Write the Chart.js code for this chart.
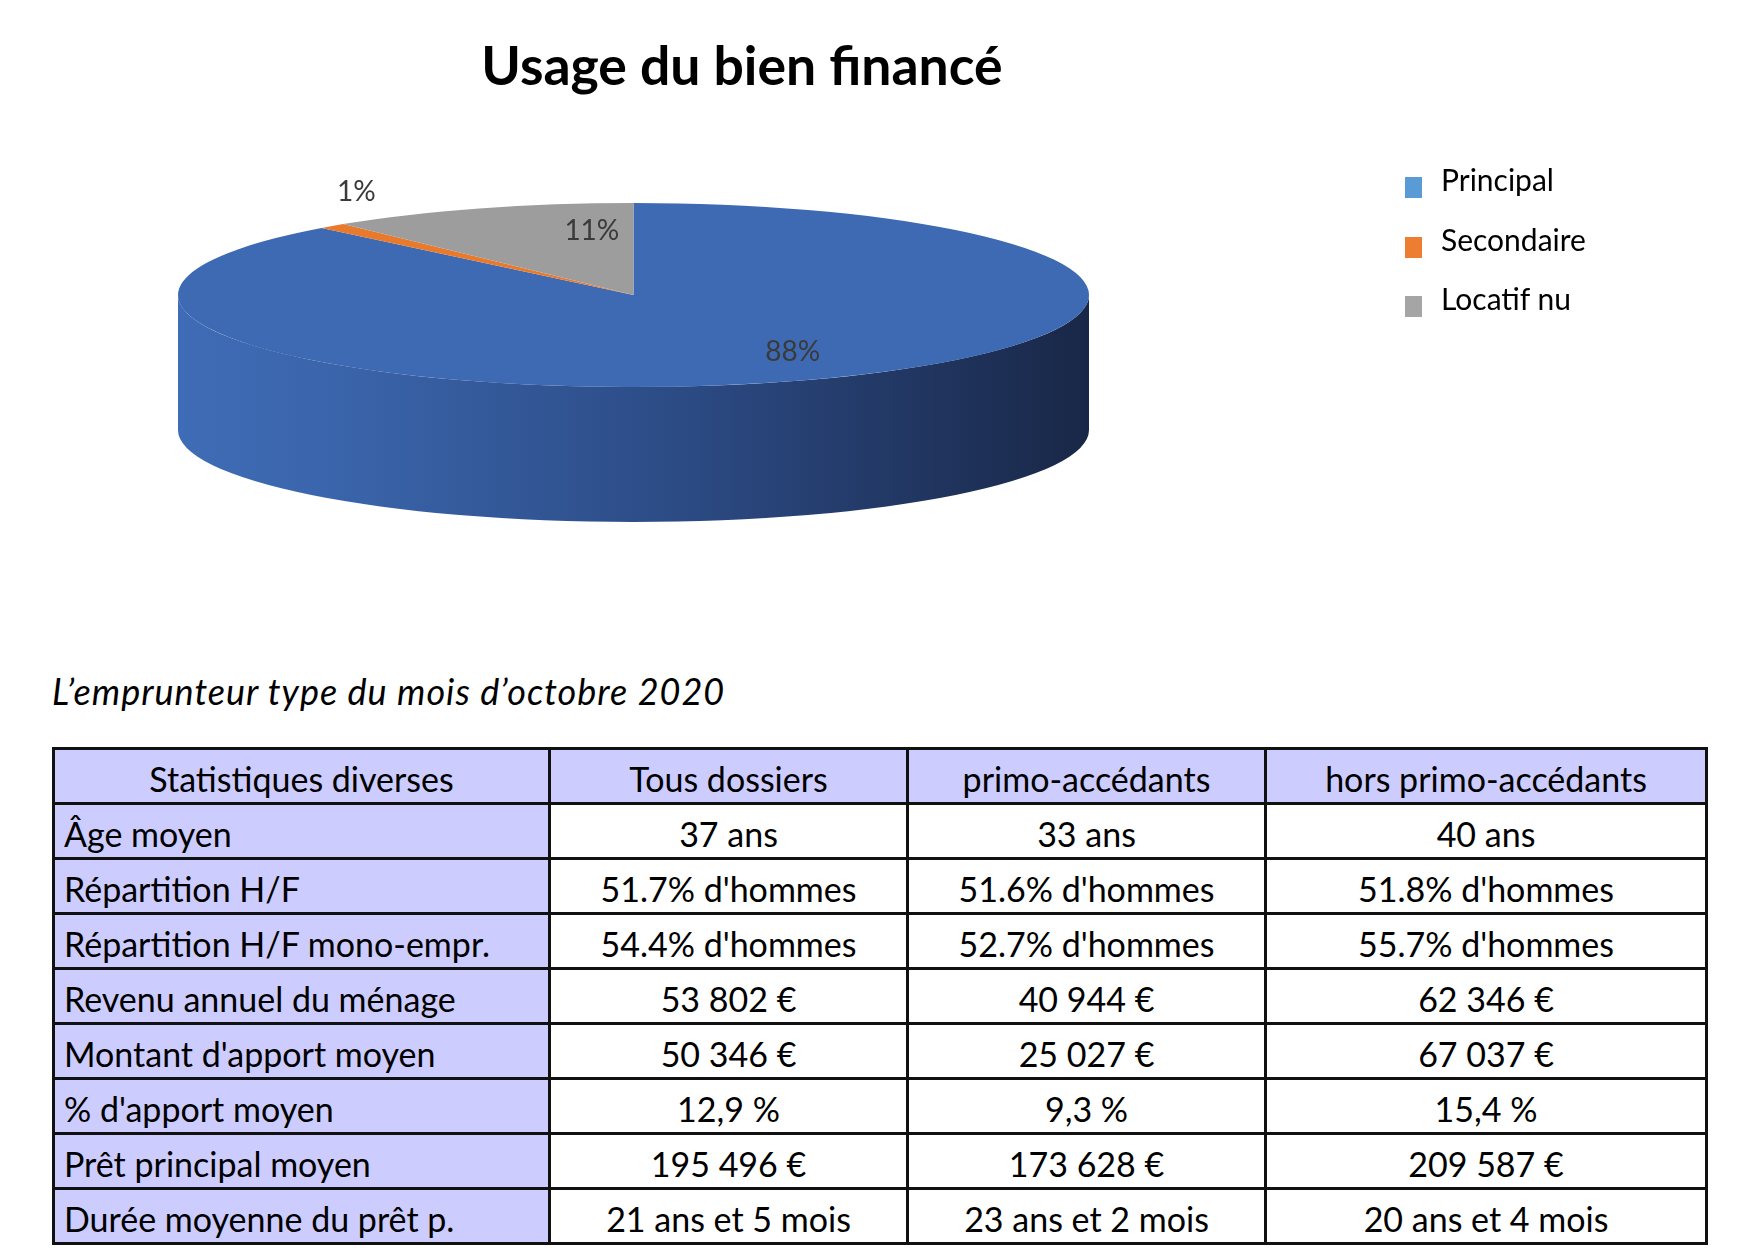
<!DOCTYPE html>
<html lang="fr">
<head>
<meta charset="utf-8">
<title>Usage du bien financé</title>
<script src="https://cdn.jsdelivr.net/npm/chart.js@4.4.1/dist/chart.umd.min.js"></script>
<style>
  html, body { margin: 0; padding: 0; background: #fff; }
  body {
    width: 1764px; height: 1254px; position: relative; overflow: hidden;
    font-family: Lato, "Noto Sans", sans-serif; color: #000;
  }
  #pie { position: absolute; left: 0; top: 0; }
  #title {
    position: absolute; left: 742px; top: 33px; transform: translateX(-50%);
    font-size: 53.5px; font-weight: 700; line-height: 62px; white-space: nowrap;
  }
  #legend { position: absolute; left: 1405px; top: 150px; }
  .key { position: relative; height: 59.6px; line-height: 59.6px; padding-left: 36px; font-size: 30px; white-space: nowrap; }
  .key i { position: absolute; left: 0; top: 27px; width: 17px; height: 21px; }
  #subtitle {
    position: absolute; left: 52px; top: 671px;
    font-size: 36px; font-style: italic; letter-spacing: 1px; line-height: 40px; white-space: nowrap;
  }
  #stats {
    position: absolute; left: 52px; top: 747px; width: 1656px;
    border-collapse: separate; border-spacing: 0; table-layout: fixed;
    border-top: 3px solid #111; border-left: 3px solid #111;
    font-size: 34px;
  }
  #stats tr { height: 55px; }
  #stats td {
    border-right: 3px solid #111; border-bottom: 3px solid #111;
    padding: 0 0 3.5px 0; line-height: 40px; vertical-align: bottom;
    text-align: center; white-space: nowrap; overflow: hidden;
  }
  #stats td.lab { text-align: left; padding-left: 9px; background: #ccccff; }
  #stats tr.head td { background: #ccccff; text-align: center; padding-left: 0; }
</style>
</head>
<body>
<canvas id="pie" width="1764" height="600"></canvas>
<div id="title">Usage du bien financé</div>
<div id="legend"></div>
<div id="subtitle">L’emprunteur type du mois d’octobre 2020</div>
<table id="stats"></table>
<script>
// pie data
const categories = ['Principal', 'Secondaire', 'Locatif nu'];
const shares = [88, 1, 11];

// table data
const tableHeader = ['Statistiques diverses', 'Tous dossiers', 'primo-accédants', 'hors primo-accédants'];
const statLabels = [
  'Âge moyen',
  'Répartition H/F',
  'Répartition H/F mono-empr.',
  'Revenu annuel du ménage',
  "Montant d'apport moyen",
  "% d'apport moyen",
  'Prêt principal moyen',
  'Durée moyenne du prêt p.'
];
const tousDossiers = ['37 ans', "51.7% d'hommes", "54.4% d'hommes", '53 802 €', '50 346 €', '12,9 %', '195 496 €', '21 ans et 5 mois'];
const primoAccedants = ['33 ans', "51.6% d'hommes", "52.7% d'hommes", '40 944 €', '25 027 €', '9,3 %', '173 628 €', '23 ans et 2 mois'];
const horsPrimo = ['40 ans', "51.8% d'hommes", "55.7% d'hommes", '62 346 €', '67 037 €', '15,4 %', '209 587 €', '20 ans et 4 mois'];

// colours
const sliceColors = ['#3d6ab3', '#e97a2d', '#9d9d9d'];
const keyColors = ['#5b9bd5', '#ed7d31', '#a5a5a5'];
const sideStops = [
  [[0, '#3f6cb6'], [0.15, '#3b66ad'], [0.55, '#2c4b85'], [1, '#192747']],
  [[0, '#e97a2d'], [1, '#7a3d12']],
  [[0, '#9d9d9d'], [1, '#4a4a4a']]
];

// flattened pie with a side wall, drawn from the arc elements
const pie3d = {
  id: 'pie3d',
  beforeDatasetsDraw(chart, args, opts) {
    const {ctx, chartArea} = chart;
    const arcs = chart.getDatasetMeta(0).data;
    const {x, y, outerRadius: r} = arcs[0];
    const sx = chartArea.width / chartArea.height;
    const TAU = Math.PI * 2;
    ctx.save();
    ctx.translate(x, y);
    ctx.scale(sx, 1);
    ctx.translate(-x, -y);
    arcs.forEach((arc, i) => {
      const grad = ctx.createLinearGradient(x - r, 0, x + r, 0);
      opts.sideStops[i].forEach(([p, c]) => grad.addColorStop(p, c));
      for (const k of [-1, 0, 1]) {
        const a0 = Math.max(arc.startAngle, k * TAU);
        const a1 = Math.min(arc.endAngle, k * TAU + Math.PI);
        if (a1 <= a0) continue;
        ctx.beginPath();
        ctx.arc(x, y, r, a0, a1);
        ctx.arc(x, y + opts.depth, r, a1, a0, true);
        ctx.closePath();
        ctx.fillStyle = grad;
        ctx.fill();
      }
    });
  },
  afterDatasetsDraw(chart, args, opts) {
    const {ctx, chartArea} = chart;
    ctx.restore();
    const arcs = chart.getDatasetMeta(0).data;
    const values = chart.data.datasets[0].data;
    const sx = chartArea.width / chartArea.height;
    ctx.save();
    ctx.font = opts.labelFont;
    ctx.fillStyle = opts.labelColor;
    ctx.textAlign = 'center';
    ctx.textBaseline = 'middle';
    arcs.forEach((arc, i) => {
      const mid = (arc.startAngle + arc.endAngle) / 2;
      const p = opts.labelPlacement[i];
      const lx = arc.x + Math.cos(mid) * arc.outerRadius * sx * p.fx;
      const ly = arc.y + Math.sin(mid) * arc.outerRadius * p.fy;
      ctx.fillText(values[i] + '%', lx, ly);
    });
    ctx.restore();
  }
};

const chart = new Chart(document.getElementById('pie'), {
  type: 'pie',
  data: {
    labels: categories,
    datasets: [{
      data: shares,
      backgroundColor: sliceColors,
      borderWidth: 0,
      clip: false
    }]
  },
  options: {
    responsive: false,
    animation: false,
    events: [],
    layout: { padding: { left: 178, right: 675, top: 203, bottom: 213 } },
    plugins: {
      legend: { display: false },
      tooltip: { enabled: false },
      title: { display: false },
      pie3d: {
        depth: 135,
        sideStops: sideStops,
        labelFont: '28px Lato',
        labelColor: '#3a3a3a',
        // radial factors (x, y) for each slice label
        labelPlacement: [{fx: 0.95, fy: 0.67}, {fx: 0.92, fy: 1.49}, {fx: 0.27, fy: 0.74}]
      }
    }
  },
  plugins: [pie3d]
});

// legend
const legend = document.getElementById('legend');
categories.forEach((name, i) => {
  const row = document.createElement('div');
  row.className = 'key';
  row.innerHTML = '<i style="background:' + keyColors[i] + '"></i>' + name;
  legend.appendChild(row);
});

// table
const table = document.getElementById('stats');
const colWidths = [496, 358, 358, 441];
const cg = document.createElement('colgroup');
colWidths.forEach(w => {
  const c = document.createElement('col');
  c.style.width = w + 'px';
  cg.appendChild(c);
});
table.appendChild(cg);
const head = table.insertRow();
head.className = 'head';
tableHeader.forEach(t => { head.insertCell().textContent = t; });
statLabels.forEach((lab, i) => {
  const tr = table.insertRow();
  const c0 = tr.insertCell();
  c0.className = 'lab';
  c0.textContent = lab;
  [tousDossiers, primoAccedants, horsPrimo].forEach(col => { tr.insertCell().textContent = col[i]; });
});
</script>
</body>
</html>
